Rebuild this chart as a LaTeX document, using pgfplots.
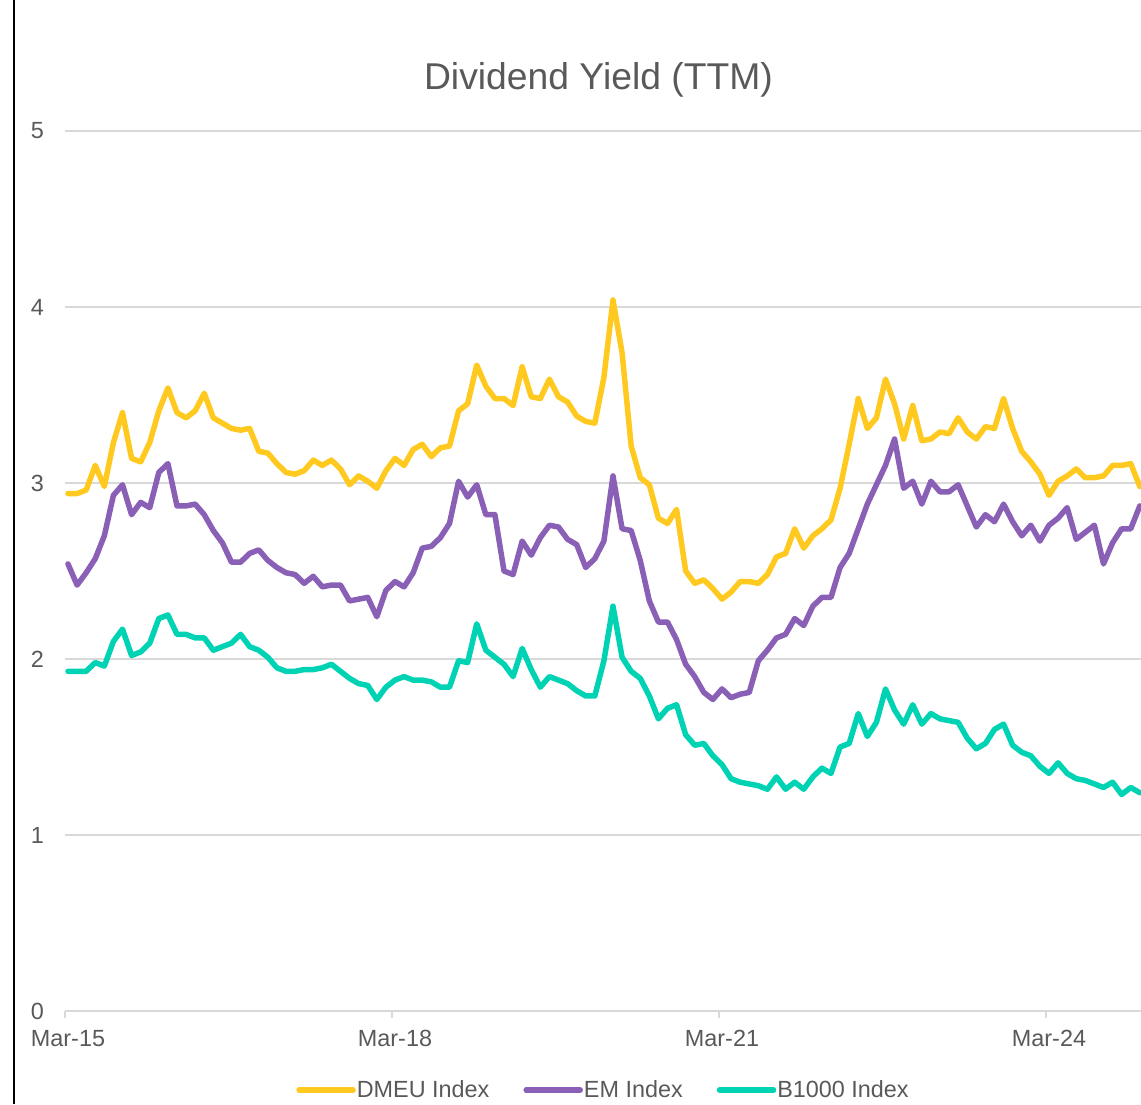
\documentclass[border=0pt]{standalone}
\usepackage{fontspec}
\setmainfont{Liberation Sans}
\usepackage{pgfplots}
\usepackage{pgfplotstable}
\pgfplotsset{compat=1.18}
\definecolor{cdmeu}{HTML}{FFC91F}
\definecolor{cem}{HTML}{8A60B6}
\definecolor{cb}{HTML}{00D3B4}
\definecolor{tgray}{HTML}{595959}
\definecolor{ggray}{HTML}{D9D9D9}

\pgfplotstableread{
i d e b
0 2.94 2.54 1.93
1 2.94 2.42 1.93
2 2.96 2.49 1.93
3 3.10 2.57 1.98
4 2.98 2.70 1.96
5 3.23 2.93 2.10
6 3.40 2.99 2.17
7 3.14 2.82 2.02
8 3.12 2.89 2.04
9 3.23 2.86 2.09
10 3.41 3.06 2.23
11 3.54 3.11 2.25
12 3.40 2.87 2.14
13 3.37 2.87 2.14
14 3.41 2.88 2.12
15 3.51 2.82 2.12
16 3.37 2.73 2.05
17 3.34 2.66 2.07
18 3.31 2.55 2.09
19 3.30 2.55 2.14
20 3.31 2.60 2.07
21 3.18 2.62 2.05
22 3.17 2.56 2.01
23 3.11 2.52 1.95
24 3.06 2.49 1.93
25 3.05 2.48 1.93
26 3.07 2.43 1.94
27 3.13 2.47 1.94
28 3.10 2.41 1.95
29 3.13 2.42 1.97
30 3.08 2.42 1.93
31 2.99 2.33 1.89
32 3.04 2.34 1.86
33 3.01 2.35 1.85
34 2.97 2.24 1.77
35 3.07 2.39 1.84
36 3.14 2.44 1.88
37 3.10 2.41 1.90
38 3.19 2.49 1.88
39 3.22 2.63 1.88
40 3.15 2.64 1.87
41 3.20 2.69 1.84
42 3.21 2.77 1.84
43 3.41 3.01 1.99
44 3.45 2.92 1.98
45 3.67 2.99 2.20
46 3.55 2.82 2.05
47 3.48 2.82 2.01
48 3.48 2.50 1.97
49 3.44 2.48 1.90
50 3.66 2.67 2.06
51 3.49 2.59 1.94
52 3.48 2.69 1.84
53 3.59 2.76 1.90
54 3.49 2.75 1.88
55 3.46 2.68 1.86
56 3.38 2.65 1.82
57 3.35 2.52 1.79
58 3.34 2.57 1.79
59 3.60 2.67 1.99
60 4.04 3.04 2.30
61 3.74 2.74 2.01
62 3.21 2.73 1.93
63 3.03 2.56 1.89
64 2.99 2.33 1.79
65 2.80 2.21 1.66
66 2.77 2.21 1.72
67 2.85 2.11 1.74
68 2.50 1.97 1.57
69 2.43 1.90 1.51
70 2.45 1.81 1.52
71 2.40 1.77 1.45
72 2.34 1.83 1.40
73 2.38 1.78 1.32
74 2.44 1.80 1.30
75 2.44 1.81 1.29
76 2.43 1.99 1.28
77 2.48 2.05 1.26
78 2.58 2.12 1.33
79 2.60 2.14 1.26
80 2.74 2.23 1.30
81 2.63 2.19 1.26
82 2.70 2.30 1.33
83 2.74 2.35 1.38
84 2.79 2.35 1.35
85 2.97 2.52 1.50
86 3.22 2.60 1.52
87 3.48 2.74 1.69
88 3.31 2.88 1.56
89 3.37 2.99 1.64
90 3.59 3.10 1.83
91 3.45 3.25 1.71
92 3.25 2.97 1.63
93 3.44 3.01 1.74
94 3.24 2.88 1.63
95 3.25 3.01 1.69
96 3.29 2.95 1.66
97 3.28 2.95 1.65
98 3.37 2.99 1.64
99 3.29 2.87 1.55
100 3.25 2.75 1.49
101 3.32 2.82 1.52
102 3.31 2.78 1.60
103 3.48 2.88 1.63
104 3.31 2.78 1.51
105 3.18 2.70 1.47
106 3.12 2.76 1.45
107 3.05 2.67 1.39
108 2.93 2.76 1.35
109 3.01 2.80 1.41
110 3.04 2.86 1.35
111 3.08 2.68 1.32
112 3.03 2.72 1.31
113 3.03 2.76 1.29
114 3.04 2.54 1.27
115 3.10 2.66 1.30
116 3.10 2.74 1.23
117 3.11 2.74 1.27
118 2.98 2.87 1.24
}\datatab

\begin{document}
\begin{tikzpicture}[x=1pt,y=1pt]
\useasboundingbox (0,0) rectangle (1141,1104);
\draw[line width=2.2pt] (14,0) -- (14,1104);
\node[anchor=base, text=tgray, font=\fontsize{37.3}{44}\selectfont, inner sep=0pt] at (598.5,1014) {Dividend Yield (TTM)};
\begin{axis}[
  at={(65pt,93pt)}, anchor=south west,
  scale only axis, width=1076pt, height=880pt,
  xmin=-0.33, xmax=118.13, ymin=0, ymax=5,
  axis x line=bottom, axis y line=left,
  x axis line style={-, draw=ggray, line width=1.8pt},
  y axis line style={draw=none},
  xtick={-0.33,35.67,71.67,107.67},
  xticklabels={Mar-15,Mar-18,Mar-21,Mar-24},
  ytick={0,1,2,3,4,5},
  tick align=outside, major tick length=7pt,
  xtick style={draw=ggray, line width=1.8pt},
  ytick style={draw=none},
  ymajorgrids, grid style={draw=ggray, line width=1.8pt},
  /pgf/number format/assume math mode=true,
  ticklabel style={font=\fontsize{23.4}{28}\selectfont, text=tgray},
  xticklabel style={anchor=north, inner sep=0pt, yshift=-12pt, xshift=3pt},
  yticklabel style={anchor=east, inner sep=0pt, xshift=-14pt},
  legend style={draw=none, fill=none, at={(axis description cs:0.5,-0.0898)}, anchor=center,
    font=\fontsize{23.4}{28}\selectfont, text=tgray,
    /tikz/every even column/.append style={column sep=33pt},
    nodes={inner sep=1pt}},
  legend columns=3,
  legend image code/.code={\draw[#1, line width=5.5pt, line cap=round] (0pt,0pt) -- (54pt,0pt);},
  every axis plot/.append style={line width=5.5pt, line join=round, line cap=round, no markers},
]
\addplot[cdmeu] table[x=i, y=d] {\datatab};
\addlegendentry{DMEU Index}
\addplot[cem] table[x=i, y=e] {\datatab};
\addlegendentry{EM Index}
\addplot[cb] table[x=i, y=b] {\datatab};
\addlegendentry{B1000 Index}
\end{axis}
\end{tikzpicture}
\end{document}
